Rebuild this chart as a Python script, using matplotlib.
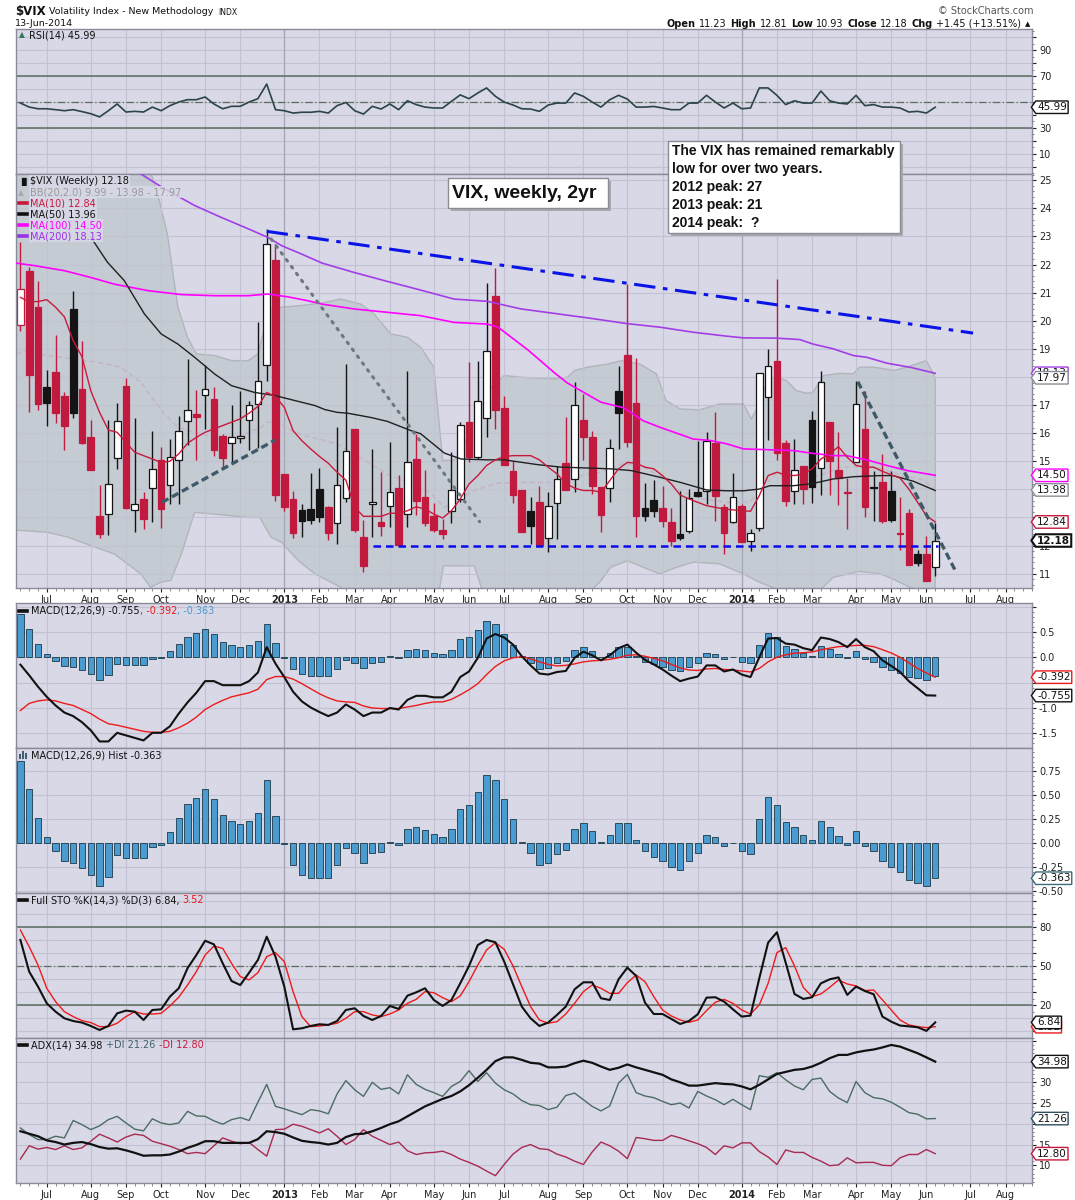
import matplotlib
matplotlib.use("Agg")
import matplotlib.pyplot as plt
import numpy as np
import pandas as pd
from matplotlib.lines import Line2D
from matplotlib.patches import Rectangle
from matplotlib.path import Path
from matplotlib.ticker import MultipleLocator

plt.rcParams["font.family"] = ["DejaVu Sans"]

# ---- data (weekly bars, Monday dated) ----
first_week = "2012-06-11"
n_future = 11

opens = [19.86, 21.78, 20.48, 17.63, 18.17, 17.31, 20.42, 17.57, 15.85, 13.07,
         13.11, 15.12, 17.68, 13.25, 13.67, 14.04, 15.05, 14.17, 15.03, 16.45,
         16.69, 17.34, 17.20, 15.89, 15.64, 15.82, 16.46, 17.03, 18.44, 22.16,
         14.55, 13.65, 13.27, 13.30, 14.00, 13.38, 12.79, 13.69, 16.15, 12.32,
         13.48, 12.85, 13.42, 14.04, 13.12, 15.08, 13.74, 13.06, 12.57, 13.24,
         13.66, 16.39, 15.14, 16.53, 20.87, 16.89, 14.64, 13.98, 13.22, 13.54,
         12.26, 13.50, 14.93, 14.37, 16.47, 15.85, 14.07, 14.04, 17.51, 18.78,
         17.07, 13.34, 13.62, 13.34, 12.83, 12.41, 12.53, 13.89, 13.95, 15.64,
         13.36, 12.85, 13.40, 12.15, 12.63, 17.28, 18.56, 15.64, 13.93, 14.82,
         16.47, 14.76, 16.39, 14.69, 13.86, 14.96, 16.15, 14.07, 14.25, 13.93,
         12.46, 13.15, 11.70, 11.70, 11.23]
highs = [22.80, 21.90, 21.40, 18.25, 19.50, 17.46, 21.04, 19.29, 16.47, 14.14,
         16.47, 17.07, 17.96, 16.53, 13.90, 16.09, 15.50, 15.80, 16.60, 18.65,
         17.52, 18.41, 17.64, 15.97, 17.00, 17.51, 17.16, 19.97, 23.27, 22.73,
         14.55, 13.95, 13.48, 14.58, 14.77, 13.42, 16.21, 18.46, 16.15, 12.91,
         15.44, 14.63, 15.67, 14.51, 18.22, 15.97, 14.69, 13.50, 12.95, 15.32,
         16.39, 18.52, 18.58, 21.34, 21.88, 17.31, 15.00, 13.98, 13.72, 14.13,
         13.89, 14.84, 16.57, 17.81, 17.39, 16.06, 14.07, 15.79, 18.40, 21.31,
         18.67, 14.22, 14.34, 14.13, 13.33, 13.95, 14.01, 15.73, 16.05, 16.74,
         13.48, 14.57, 13.48, 12.59, 18.13, 18.99, 21.49, 15.76, 15.79, 14.82,
         16.80, 18.20, 16.39, 16.05, 14.41, 17.84, 17.49, 14.67, 15.26, 14.67,
         13.74, 13.30, 11.85, 12.35, 12.81]
lows = [19.65, 16.77, 16.84, 16.27, 16.35, 15.40, 16.53, 15.60, 14.70, 12.27,
        12.36, 14.73, 13.29, 12.48, 12.60, 12.84, 12.63, 13.49, 13.49, 15.59,
        15.03, 16.16, 15.20, 14.78, 14.92, 15.64, 15.40, 15.46, 17.84, 13.60,
        13.24, 12.26, 12.30, 12.77, 12.85, 12.20, 12.05, 13.56, 12.47, 11.05,
        12.30, 12.35, 12.65, 11.98, 12.65, 13.10, 12.71, 12.47, 12.23, 12.82,
        13.54, 14.96, 15.08, 15.87, 16.15, 14.88, 13.50, 12.50, 12.06, 12.02,
        11.78, 12.23, 13.96, 13.89, 15.04, 13.83, 12.50, 13.56, 15.44, 15.50,
        12.32, 12.89, 13.00, 12.65, 12.00, 12.20, 12.44, 13.72, 13.48, 12.89,
        11.70, 12.82, 12.11, 11.79, 12.53, 15.77, 15.04, 13.42, 13.48, 13.48,
        13.50, 13.81, 13.81, 13.45, 12.59, 14.96, 13.03, 12.89, 12.82, 12.85,
        11.85, 11.32, 11.29, 10.73, 10.93]
closes = [21.13, 18.07, 17.04, 17.09, 16.73, 16.27, 16.71, 15.64, 14.70, 12.42,
          14.18, 16.45, 13.35, 13.49, 12.95, 14.71, 13.31, 15.15, 16.06, 16.81,
          16.57, 17.58, 15.41, 15.11, 15.85, 15.89, 16.99, 17.84, 22.73, 13.81,
          13.36, 12.44, 12.88, 12.90, 13.00, 12.44, 14.16, 15.38, 12.56, 11.29,
          13.56, 12.68, 13.89, 12.03, 14.96, 13.60, 12.80, 12.57, 12.41, 13.98,
          16.29, 15.14, 17.13, 18.91, 16.84, 14.88, 13.81, 12.50, 12.71, 12.02,
          13.40, 14.37, 13.96, 17.00, 15.85, 14.13, 13.10, 15.46, 16.72, 15.70,
          13.04, 13.06, 13.24, 12.89, 12.18, 12.26, 13.69, 13.77, 15.73, 13.77,
          12.44, 13.74, 12.11, 12.44, 18.13, 18.40, 15.28, 13.58, 14.69, 14.02,
          14.10, 17.81, 15.00, 14.41, 13.92, 17.04, 13.36, 14.04, 12.89, 12.90,
          12.42, 11.32, 11.37, 10.73, 12.18]
close_before_first = 22.0

ma10 = [20.83, 20.68, 20.68, 20.75, 20.48, 20.14, 19.29, 18.72, 17.51, 16.74,
        16.11, 16.03, 15.67, 15.32, 15.20, 15.08, 14.96, 15.00, 15.26, 15.64,
        15.85, 16.03, 16.15, 16.27, 16.39, 16.51, 16.71, 16.95, 17.45, 17.30,
        16.92, 16.09, 15.73, 15.44, 15.17, 14.93, 14.61, 14.33, 13.36, 13.04,
        13.04, 13.04, 13.15, 13.15, 13.24, 13.38, 13.30, 13.12, 12.98, 13.24,
        13.66, 14.19, 14.49, 14.85, 15.05, 15.17, 15.20, 15.20, 15.20, 15.05,
        14.79, 14.55, 14.22, 14.04, 13.96, 13.96, 13.90, 14.31, 14.73, 14.96,
        14.93, 14.79, 14.73, 14.49, 14.19, 13.80, 13.66, 13.54, 13.42, 13.36,
        13.30, 13.27, 13.24, 13.22, 13.78, 14.49, 14.61, 14.51, 14.49, 14.55,
        14.73, 15.08, 15.26, 15.52, 15.14, 14.85, 14.79, 14.79, 14.64, 14.52,
        14.40, 14.01, 13.54, 13.06, 12.84]

ma50_x = [8.0, 9.9, 11.8, 14.1, 16.0, 17.9, 19.8, 22.1, 24.0, 26.6, 28.9, 31.2, 33.5,
          34.6, 36.0, 37.2, 39.8, 41.7, 44.4, 45.5, 48.2, 50.1, 53.1, 55.0, 58.8, 61.5,
          64.5, 67.1, 69.4, 70.8, 72.7, 75.0, 78.0, 80.3, 82.2, 84.0, 85.2, 87.9, 90.1,
          92.4, 94.7, 97.7, 99.2, 101.5, 104.0]
ma50_y = [22.97, 22.08, 21.43, 20.24, 19.53, 19.17, 18.70, 18.10, 17.69, 17.45, 17.34,
          17.16, 16.98, 16.84, 16.74, 16.71, 16.56, 16.42, 16.09, 15.98, 15.29, 15.08,
          15.05, 15.05, 14.88, 14.79, 14.76, 14.73, 14.67, 14.57, 14.43, 14.25, 13.98,
          13.95, 13.95, 14.01, 14.13, 14.13, 14.21, 14.37, 14.45, 14.49, 14.49, 14.29,
          13.96]

ma100_x = [-0.5, 1.6, 5.0, 8.0, 10.7, 14.5, 18.3, 22.1, 25.9, 28.1, 30.4, 32.7, 34.3,
           37.9, 41.7, 45.5, 49.3, 53.1, 54.3, 57.7, 60.7, 62.2, 66.0, 68.6, 70.8, 72.7,
           76.5, 78.4, 80.3, 82.2, 86.0, 87.9, 90.1, 92.4, 93.9, 96.2, 98.5, 100.8, 104.0]
ma100_y = [22.05, 21.96, 21.78, 21.54, 21.30, 21.07, 20.93, 20.89, 20.89, 20.95, 20.85,
           20.71, 20.59, 20.42, 20.30, 20.18, 19.94, 19.88, 19.77, 18.96, 18.15, 17.78,
           17.10, 16.90, 16.44, 16.21, 15.79, 15.74, 15.62, 15.44, 15.40, 15.38, 15.28,
           15.20, 15.20, 15.05, 14.85, 14.67, 14.50]

ma200_x = [12.0, 13.7, 16.4, 19.8, 22.8, 25.9, 28.1, 29.7, 31.9, 34.3, 37.9, 41.7, 45.5,
           49.3, 53.1, 56.9, 60.7, 64.5, 68.9, 72.7, 76.5, 80.3, 82.2, 86.0, 88.6, 90.1,
           92.4, 94.7, 96.2, 98.5, 101.2, 104.0]
ma200_y = [25.50, 25.22, 24.69, 24.10, 23.68, 23.27, 22.97, 22.67, 22.38, 22.05, 21.72,
           21.40, 21.09, 20.77, 20.69, 20.42, 20.26, 20.10, 19.90, 19.77, 19.59, 19.45,
           19.39, 19.38, 19.33, 19.17, 19.00, 18.76, 18.70, 18.49, 18.34, 18.13]

bb_up_x = [-0.5, 10.0, 14.5, 15.6, 16.7, 17.9, 19.0, 20.0, 22.1, 24.0, 25.9, 27.0, 27.6,
           28.1, 29.7, 31.9, 34.1, 36.4, 38.7, 40.2, 42.1, 44.0, 45.5, 47.0, 48.0, 49.3,
           50.1, 52.0, 53.5, 55.0, 56.9, 60.7, 62.2, 63.0, 64.5, 66.8, 68.3, 70.4, 72.3,
           73.4, 75.0, 77.2, 79.5, 82.2, 83.1, 84.0, 85.0, 85.9, 87.1, 88.2, 89.4, 90.1,
           91.3, 93.2, 94.7, 95.4, 97.0, 99.3, 100.8, 103.0, 104.0]
bb_up_y = [27.0, 26.8, 25.6, 24.51, 23.09, 20.48, 19.41, 18.82, 18.76, 18.58, 18.58,
           18.82, 19.53, 20.42, 20.48, 20.54, 20.62, 20.77, 20.59, 20.24, 19.53, 19.41,
           19.06, 18.35, 15.02, 15.05, 15.38, 16.68, 17.63, 18.05, 17.99, 17.93, 17.99,
           18.23, 18.35, 18.46, 18.58, 18.46, 18.11, 17.16, 16.86, 16.83, 17.04, 17.04,
           16.50, 17.04, 17.93, 17.99, 17.87, 17.51, 17.42, 17.45, 18.05, 18.13, 18.11,
           18.35, 18.35, 18.23, 18.35, 18.58, 17.97]
bb_mid_x = [-0.5, 0.8, 3.1, 6.1, 8.8, 11.4, 13.7, 15.2, 16.4, 17.9, 19.8, 22.1, 25.1, 27.4,
            28.1, 29.3, 30.8, 32.3, 34.3, 36.0, 38.0, 39.8, 41.7, 43.6, 45.5, 46.7, 48.2,
            50.1, 52.0, 54.3, 56.9, 60.7, 63.7, 66.0, 68.6, 70.8, 72.7, 75.0, 77.6, 80.3,
            82.9, 84.0, 85.9, 88.6, 90.9, 93.2, 95.8, 98.0, 100.3, 102.6, 104.0]
bb_mid_y = [18.82, 18.91, 18.76, 18.64, 18.52, 18.35, 17.81, 17.16, 16.68, 16.21, 16.03,
            15.85, 15.91, 16.21, 16.39, 16.39, 16.09, 15.91, 15.76, 15.61, 15.26, 14.90,
            14.55, 14.31, 14.07, 13.84, 13.36, 13.72, 14.01, 14.22, 14.25, 14.25, 14.49,
            14.61, 14.93, 14.79, 14.49, 13.95, 13.66, 13.54, 13.54, 13.95, 14.55, 14.40,
            14.49, 14.79, 14.81, 14.73, 14.49, 14.34, 13.98]
bb_lo_x = [-0.5, 3.1, 5.4, 8.0, 10.7, 13.7, 14.8, 16.0, 17.1, 18.3, 19.8, 22.1, 25.9, 27.2,
           28.5, 29.7, 31.6, 33.5, 34.6, 36.4, 38.0, 42.0, 46.0, 47.6, 48.1, 51.6, 52.4,
           55.0, 60.0, 64.0, 66.0, 67.1, 69.0, 70.8, 72.7, 74.6, 76.5, 79.5, 82.2, 84.0,
           85.9, 88.0, 90.5, 92.4, 95.4, 97.7, 99.2, 101.1, 102.5, 104.0]
bb_lo_y = [12.55, 12.47, 12.30, 12.00, 11.70, 10.99, 10.52, 10.70, 10.76, 11.70, 13.18,
           13.12, 13.00, 13.00, 12.30, 12.11, 11.46, 10.99, 10.81, 10.52, 10.10, 9.80,
           10.00, 10.40, 11.28, 11.28, 10.50, 9.90, 9.80, 10.10, 10.75, 11.23, 11.46,
           11.23, 10.99, 11.23, 11.41, 11.35, 10.99, 10.70, 10.46, 10.20, 10.30, 10.87,
           11.08, 11.00, 10.81, 10.52, 10.30, 9.99]

# hand-drawn trendlines: (x0, y0, x1, y1)
resistance_line = (28.0, 23.18, 108.3, 19.56)
drop_2013_line = (28.5, 22.91, 52.2, 12.85)
rise_2012_line = (16.1, 13.54, 29.0, 15.76)
support_line = (40.1, 12.0, 104.3, 12.0)
drop_2014_line = (95.2, 17.83, 106.3, 11.10)

rsi = [49.2, 46.1, 44.8, 44.8, 44.1, 43.3, 44.1, 42.6, 41.0, 38.5, 43.3, 48.5, 42.3, 42.8,
       42.3, 46.1, 43.3, 47.2, 50.0, 51.8, 51.8, 53.9, 48.5, 44.8, 46.7, 46.7, 50.0, 52.6,
       63.9, 44.1, 43.3, 41.5, 42.1, 42.1, 42.8, 41.5, 47.2, 49.7, 43.3, 40.7, 46.7, 44.6,
       48.5, 44.1, 51.0, 48.0, 46.1, 45.4, 45.4, 50.5, 55.5, 52.6, 57.0, 60.9, 54.4, 50.0,
       47.7, 44.8, 44.6, 42.8, 47.7, 49.2, 49.2, 57.0, 54.4, 50.0, 46.1, 51.8, 55.2, 52.3,
       46.1, 46.1, 46.6, 45.4, 44.1, 44.1, 49.2, 49.2, 55.2, 50.0, 45.4, 49.2, 44.8, 45.4,
       60.9, 60.9, 55.2, 48.0, 51.0, 49.2, 49.2, 58.5, 51.0, 49.2, 48.5, 55.2, 47.2, 48.0,
       46.1, 46.1, 45.4, 42.3, 42.8, 41.5, 45.99]

macd = [-0.145, -0.355, -0.58, -0.78, -0.95, -1.09, -1.16, -1.28, -1.44, -1.66, -1.66,
        -1.49, -1.54, -1.59, -1.64, -1.49, -1.49, -1.36, -1.11, -0.89, -0.70, -0.47, -0.47,
        -0.55, -0.55, -0.55, -0.47, -0.30, 0.20, -0.125, -0.39, -0.68, -0.87, -0.99, -1.08,
        -1.16, -1.09, -0.93, -1.03, -1.16, -1.09, -1.09, -1.00, -1.03, -0.84, -0.76, -0.76,
        -0.79, -0.79, -0.68, -0.39, -0.28, -0.01, 0.37, 0.46, 0.39, 0.25, 0.02, -0.16, -0.32,
        -0.34, -0.29, -0.27, -0.01, 0.11, 0.04, -0.06, 0.04, 0.18, 0.25, 0.09, -0.05, -0.14,
        -0.24, -0.36, -0.47, -0.42, -0.38, -0.16, -0.16, -0.28, -0.24, -0.34, -0.39, 0.0,
        0.37, 0.38, 0.27, 0.25, 0.18, 0.14, 0.39, 0.36, 0.30, 0.20, 0.36, 0.20, 0.12, -0.06,
        -0.17, -0.29, -0.47, -0.61, -0.75, -0.755]
macd_signal = [-1.05, -0.91, -0.86, -0.84, -0.86, -0.91, -0.95, -1.03, -1.11, -1.22, -1.31,
               -1.34, -1.38, -1.42, -1.46, -1.48, -1.48, -1.46, -1.39, -1.30, -1.18, -1.03,
               -0.93, -0.85, -0.78, -0.74, -0.70, -0.63, -0.44, -0.38, -0.38, -0.43, -0.52,
               -0.62, -0.72, -0.80, -0.86, -0.88, -0.89, -0.96, -1.00, -1.01, -1.01, -1.01,
               -0.98, -0.95, -0.91, -0.88, -0.88, -0.83, -0.74, -0.64, -0.52, -0.34, -0.18,
               -0.07, -0.01, 0.01, -0.03, -0.09, -0.14, -0.17, -0.16, -0.13, -0.09, -0.07,
               -0.06, -0.04, -0.01, 0.04, 0.05, 0.02, -0.02, -0.07, -0.14, -0.21, -0.25,
               -0.26, -0.23, -0.22, -0.24, -0.25, -0.27, -0.29, -0.22, -0.09, 0.0, 0.05,
               0.08, 0.09, 0.105, 0.15, 0.18, 0.21, 0.22, 0.235, 0.235, 0.21, 0.15, 0.085,
               0.0, -0.11, -0.22, -0.31, -0.392]
macd_hist = [0.86, 0.5625, 0.26, 0.0625, -0.076, -0.18, -0.20, -0.26, -0.33, -0.44, -0.35,
             -0.125, -0.156, -0.156, -0.156, -0.035, -0.017, 0.115, 0.26, 0.406, 0.47,
             0.5625, 0.458, 0.30, 0.236, 0.198, 0.236, 0.3125, 0.656, 0.28, -0.005, -0.226,
             -0.33, -0.365, -0.365, -0.365, -0.226, -0.052, -0.104, -0.208, -0.104, -0.087,
             0.017, -0.02, 0.146, 0.167, 0.135, 0.094, 0.0625, 0.146, 0.354, 0.396, 0.531,
             0.708, 0.656, 0.458, 0.25, 0.017, -0.104, -0.226, -0.208, -0.115, -0.073,
             0.146, 0.208, 0.125, 0.01, 0.087, 0.208, 0.208, 0.03, -0.083, -0.139, -0.1875,
             -0.25, -0.28, -0.1875, -0.104, 0.083, 0.0625, -0.031, 0.003, -0.083, -0.115,
             0.25, 0.479, 0.396, 0.219, 0.167, 0.083, 0.031, 0.229, 0.167, 0.073, -0.021,
             0.125, -0.031, -0.083, -0.1875, -0.25, -0.30, -0.385, -0.417, -0.448, -0.363]

sto_k = [70.3, 45.9, 34.4, 21.5, 15.1, 10.0, 7.9, 6.7, 4.1, 1.0, 4.1, 13.8, 15.9, 15.1, 8.7,
         16.4, 16.9, 26.7, 33.1, 48.5, 58.7, 69.7, 66.9, 52.3, 38.7, 35.6, 45.1, 54.9, 72.8,
         57.4, 34.4, 1.5, 2.3, 4.1, 5.4, 4.9, 7.9, 16.4, 17.7, 11.8, 8.7, 11.8, 19.5, 17.2,
         27.4, 30.0, 33.1, 24.1, 19.5, 24.1, 36.9, 50.3, 66.4, 70.3, 68.5, 53.6, 36.2, 19.0,
         10.0, 4.1, 6.7, 12.6, 19.0, 32.3, 37.7, 37.7, 25.4, 24.1, 40.0, 49.0, 42.6, 22.1,
         13.3, 13.3, 9.5, 5.6, 7.9, 13.1, 25.9, 26.2, 22.8, 16.9, 11.3, 12.1, 40.8, 68.2,
         76.2, 52.8, 28.7, 24.9, 26.2, 36.9, 40.0, 41.5, 28.0, 34.4, 31.0, 28.5, 11.3, 7.4,
         4.4, 3.8, 3.1, 0.3, 6.84]
sto_d = [77.9, 65.1, 51.0, 33.1, 22.8, 15.1, 11.3, 8.2, 6.7, 3.6, 3.6, 6.2, 11.3, 15.1,
         13.3, 13.3, 13.8, 19.5, 26.2, 35.6, 45.9, 58.7, 65.6, 63.8, 52.3, 42.1, 39.5, 45.1,
         57.4, 60.5, 53.6, 30.5, 11.3, 3.6, 4.1, 4.9, 6.2, 10.0, 15.1, 15.1, 12.6, 11.3,
         13.3, 16.4, 21.5, 24.6, 30.5, 29.7, 25.9, 22.8, 27.2, 38.2, 51.0, 62.6, 68.2, 63.1,
         50.3, 34.4, 19.0, 8.7, 6.2, 7.4, 13.3, 21.5, 30.5, 35.6, 33.1, 29.2, 29.2, 37.4,
         43.3, 38.2, 26.7, 16.4, 11.8, 8.7, 6.9, 8.7, 15.9, 22.3, 24.6, 21.5, 16.4, 13.3,
         20.3, 36.9, 60.5, 64.4, 50.3, 33.8, 26.7, 28.7, 33.8, 39.5, 36.4, 34.9, 31.3, 31.8,
         24.1, 16.4, 8.7, 4.9, 3.6, 2.8, 3.52]

adx = [18.2, 17.6, 17.0, 16.0, 15.6, 15.0, 15.4, 15.6, 15.1, 14.4, 14.0, 14.1, 13.6, 13.0,
       12.3, 12.4, 12.4, 12.6, 13.3, 14.2, 14.9, 15.8, 15.8, 15.4, 15.4, 15.4, 15.4, 16.3,
       18.2, 18.0, 17.6, 16.7, 15.9, 15.6, 15.4, 15.0, 15.4, 16.8, 17.5, 17.6, 18.2, 19.0,
       19.9, 20.6, 21.8, 23.0, 24.2, 25.1, 26.0, 26.7, 27.8, 29.3, 31.1, 33.0, 35.1, 36.0,
       36.0, 35.4, 34.7, 34.5, 33.6, 33.6, 33.8, 34.6, 35.2, 34.7, 33.8, 33.0, 33.5, 34.3,
       33.6, 33.0, 32.4, 31.8, 30.7, 30.0, 29.2, 29.2, 29.5, 29.8, 29.6, 29.5, 29.0, 28.3,
       29.4, 30.7, 32.0, 32.5, 33.0, 33.2, 33.8, 34.7, 35.8, 36.6, 36.6, 37.2, 37.6, 37.9,
       38.4, 39.0, 38.6, 37.8, 37.0, 36.0, 34.98]
plus_di = [19.0, 17.4, 16.2, 16.2, 17.0, 16.6, 20.8, 19.8, 18.6, 19.5, 21.0, 21.8, 20.2,
           18.7, 18.3, 21.2, 20.2, 19.8, 20.2, 23.0, 21.9, 21.8, 20.7, 19.9, 21.0, 21.5,
           20.8, 25.2, 29.5, 24.2, 23.6, 22.9, 22.2, 23.4, 23.1, 22.4, 27.2, 30.4, 28.2,
           26.6, 30.0, 28.3, 28.7, 27.2, 31.8, 29.5, 28.3, 27.5, 26.6, 29.0, 30.2, 32.8,
           30.2, 32.3, 29.8, 28.2, 27.2, 25.6, 24.6, 24.4, 23.4, 24.0, 26.8, 27.4, 25.8,
           24.2, 23.1, 24.3, 29.8, 31.9, 27.5, 26.7, 26.3, 25.4, 24.6, 25.0, 23.8, 27.8,
           26.7, 25.8, 24.6, 25.9, 24.6, 23.4, 31.6, 31.2, 32.3, 30.6, 29.1, 28.2, 30.7,
           31.0, 27.8, 26.2, 25.1, 30.2, 27.5, 26.3, 26.0, 25.2, 24.0, 22.7, 22.3, 21.2,
           21.26]
minus_di = [11.5, 14.7, 13.9, 14.3, 13.8, 14.7, 13.8, 14.2, 15.8, 17.5, 16.6, 15.6, 16.8,
            17.5, 17.2, 15.8, 15.2, 14.6, 13.8, 12.8, 13.1, 12.8, 14.7, 16.6, 15.8, 15.2,
            15.5, 13.8, 12.2, 18.6, 18.7, 19.9, 19.4, 18.6, 17.8, 18.8, 17.0, 15.0, 16.2,
            18.6, 17.0, 16.0, 15.0, 15.6, 13.5, 12.6, 13.0, 13.1, 13.4, 12.6, 11.5, 10.7,
            9.8, 8.6, 7.5, 10.2, 12.7, 14.3, 15.0, 14.0, 13.8, 12.7, 12.0, 11.0, 10.2, 13.2,
            15.6, 14.7, 13.4, 11.6, 16.7, 16.4, 16.0, 16.0, 17.2, 16.6, 15.9, 15.2, 14.3,
            12.6, 14.7, 14.2, 15.4, 15.4, 13.3, 12.0, 10.2, 13.7, 13.1, 13.1, 11.9, 11.0,
            9.9, 10.1, 11.8, 10.6, 10.7, 10.7, 10.0, 9.9, 11.8, 12.6, 12.6, 13.8, 12.8]

info_lines = ["The VIX has remained remarkably", "low for over two years.",
              "2012 peak: 27", "2013 peak: 21", "2014 peak:  ?"]

# ---- layout ----
W, H = 1075, 1200
X0, X1 = 16, 1032
BG = "#d8d8e7"
GRID = "#c2c2d2"
SPINE = "#8a8a98"
RED = "#c21a3e"
BLK = "#141414"

n = len(closes)
idx = np.arange(n)
dates = pd.date_range(first_week, periods=n + n_future, freq="W-MON")
month_idx = [i for i in range(1, len(dates)) if dates[i].month != dates[i - 1].month]
month_lbl = [str(dates[i].year) if dates[i].month == 1 else dates[i].strftime("%b") for i in month_idx]
year_idx = [i for i, l in zip(month_idx, month_lbl) if l.isdigit()]

fig = plt.figure(figsize=(W / 100, H / 100), dpi=100)
fig.patch.set_facecolor("white")


def panel(top, bottom, ylim):
    ax = fig.add_axes([X0 / W, 1 - bottom / H, (X1 - X0) / W, (bottom - top) / H])
    ax.set_facecolor(BG)
    ax.set_xlim(-0.5, 115.0)
    ax.set_ylim(*ylim)
    for s in ax.spines.values():
        s.set_color(SPINE)
        s.set_linewidth(1)
    ax.set_xticks(month_idx)
    ax.set_xticks(np.arange(0, len(dates)), minor=True)
    ax.grid(True, which="major", color=GRID, lw=0.8)
    ax.set_axisbelow(True)
    ax.yaxis.tick_right()
    ax.tick_params(axis="y", which="major", length=3, pad=2, labelsize=7,
                   colors="#222", direction="out")
    ax.tick_params(axis="y", which="minor", length=1.5, color="#666")
    ax.tick_params(axis="x", which="both", bottom=False, labelbottom=False)
    for i in year_idx:
        ax.axvline(i, color="#a6a6b6", lw=0.9, zorder=0.6)
    return ax


def month_labels(ax):
    ax.tick_params(axis="x", which="major", bottom=True, labelbottom=True, length=3,
                   pad=1.5, labelsize=7, colors="#222")
    ax.tick_params(axis="x", which="minor", bottom=True, length=2, color="#777")
    ax.set_xticklabels(month_lbl)
    for t, l in zip(ax.get_xticklabels(), month_lbl):
        if l.isdigit():
            t.set_fontweight("bold")


def y_ticks(ax, ticks, labels, minor):
    ax.set_yticks(ticks)
    ax.set_yticklabels(labels)
    ax.yaxis.set_minor_locator(MultipleLocator(minor))


def tag_path(x0, y0, width, height, mutation_size):
    pad = 0.12 * mutation_size
    x0, y0 = x0 - pad, y0 - pad
    w, h = width + 2 * pad, height + 2 * pad
    tip = 0.35 * h
    verts = [(x0, y0), (x0 + w, y0), (x0 + w, y0 + h), (x0, y0 + h),
             (x0 - tip, y0 + h / 2), (x0, y0)]
    return Path(verts, closed=True)


def tag(ax, y, s, ec, bold=False, lw=1.0, z=6):
    ax.annotate(s, xy=(1, y), xycoords=ax.get_yaxis_transform(), xytext=(3.6, 0),
                textcoords="offset points", ha="left", va="center", fontsize=7.5,
                color="#111", fontweight="bold" if bold else "normal",
                bbox=dict(boxstyle=tag_path, fc="white", ec=ec, lw=lw),
                annotation_clip=False, zorder=z)


renderer = fig.canvas.get_renderer()


def seq(x, y, parts, align="left", gap=0.0, size=7):
    arts = []
    for s, kw in parts:
        kw = dict(kw)
        fs = kw.pop("size", size)
        arts.append(fig.text(0, 1 - y / H, s, va="center", ha="left", fontsize=fs, **kw))
    widths = [a.get_window_extent(renderer).width for a in arts]
    cur = x - (sum(widths) + gap * (len(arts) - 1)) if align == "right" else x
    for a, w in zip(arts, widths):
        a.set_x(cur / W)
        cur += w + gap


def dash_icon(x, y, color):
    fig.add_artist(Line2D([x / W, (x + 8) / W], [1 - y / H] * 2, color=color, lw=2.6,
                          transform=fig.transFigure))


# ---- RSI ----
ax_rsi = panel(29.3, 174, (-5.6, 106.2))
y_ticks(ax_rsi, range(0, 101, 10), ["", "10", "", "30", "", "", "", "70", "", "90", ""], 5)
for lvl in (70, 30):
    ax_rsi.axhline(lvl, color="#5c6c60", lw=1.1, zorder=1)
ax_rsi.axhline(50, color="#5c6c60", lw=0.9, ls=(0, (6, 2, 1, 2)), zorder=1)
ax_rsi.plot(idx, rsi, color="#2c4448", lw=1.2, zorder=3)
tag(ax_rsi, rsi[-1], f"{rsi[-1]:.2f}", "#111")

# ---- price ----
ax = panel(174, 588.3, (10.48, 25.22))
price_ticks = list(range(11, 26))
y_ticks(ax, price_ticks, ["" if v in (13, 14, 18) else str(v) for v in price_ticks], 0.2)
month_labels(ax)
ax.fill(np.r_[bb_up_x, bb_lo_x[::-1]], np.r_[bb_up_y, bb_lo_y[::-1]],
        fc="#c5cbd2", ec="#b2b5bb", lw=1.0, zorder=0.3)
ax.plot(bb_mid_x, bb_mid_y, color="#c4b6c6", lw=1.2, ls=(0, (3, 2)), zorder=1.5)

prev = np.r_[close_before_first, closes[:-1]]
for i in range(n):
    o, h, l, c = opens[i], highs[i], lows[i], closes[i]
    col = RED if c < prev[i] else BLK
    face = "white" if c > o else col
    ax.vlines(i, l, h, color=col, lw=1.0, zorder=2)
    ax.add_patch(Rectangle((i - 0.38, min(o, c)), 0.76, max(abs(c - o), 0.03),
                           fc=face, ec=col, lw=0.9, zorder=2.1))

ax.plot(ma200_x, ma200_y, color="#a23ee6", lw=1.2, zorder=3)
ax.plot(ma100_x, ma100_y, color="#ff00ff", lw=1.2, zorder=3)
ax.plot(ma50_x, ma50_y, color="#202020", lw=1.0, zorder=3)
ax.plot(idx, ma10, color="#c8193c", lw=1.0, zorder=3)

x0_, y0_, x1_, y1_ = resistance_line
ax.plot([x0_, x1_], [y0_, y1_], color="#0a14e6", lw=2.2, ls=(0, (7, 2.5, 1.5, 2.5)), zorder=4)
x0_, y0_, x1_, y1_ = drop_2013_line
ax.plot([x0_, x1_], [y0_, y1_], color="#6a7880", lw=2.2, ls=(0, (0.6, 2.2)),
        dash_capstyle="round", zorder=4)
for ln in (rise_2012_line, drop_2014_line):
    x0_, y0_, x1_, y1_ = ln
    ax.plot([x0_, x1_], [y0_, y1_], color="#3e5a68", lw=2.4, ls=(0, (2.2, 1.2)), zorder=4)
x0_, y0_, x1_, y1_ = support_line
ax.plot([x0_, x1_], [y0_, y1_], color="#0a0af0", lw=1.8, ls=(0, (3, 2)), zorder=4)

tag(ax, ma200_y[-1], f"{ma200_y[-1]:.2f}", "#a23ee6")
tag(ax, bb_up_y[-1], f"{bb_up_y[-1]:.2f}", "#8a9098")
tag(ax, ma100_y[-1], f"{ma100_y[-1]:.2f}", "#ff00ff")
tag(ax, bb_mid_y[-1], f"{bb_mid_y[-1]:.2f}", "#8a9098")
tag(ax, ma10[-1], f"{ma10[-1]:.2f}", "#c8193c")
tag(ax, closes[-1], f"{closes[-1]:.2f}", "#111", bold=True, lw=1.5, z=7)

# ---- MACD ----
ax_m = panel(603.3, 748.3, (-1.795, 1.065))
y_ticks(ax_m, [-1.5, -1.0, -0.5, 0.0, 0.5, 1.0], ["-1.5", "-1.0", "", "0.0", "0.5", ""], 0.1)
ax_m.bar(idx, macd_hist, width=0.72, color="#4a9bd0", edgecolor="#2b4a5c", lw=0.7, zorder=2)
ax_m.plot(idx, macd_signal, color="#ee1a1a", lw=1.0, zorder=3)
ax_m.plot(idx, macd, color="#111", lw=1.5, zorder=4)
tag(ax_m, macd_signal[-1], f"{macd_signal[-1]:.3f}", "#ee1a1a")
tag(ax_m, macd[-1], f"{macd[-1]:.3f}", "#111")

# ---- MACD histogram ----
ax_h = panel(748.3, 893.3, (-0.52, 0.99))
y_ticks(ax_h, [-0.5, -0.25, 0.0, 0.25, 0.5, 0.75],
        ["-0.50", "-0.25", "0.00", "0.25", "0.50", "0.75"], 0.05)
ax_h.bar(idx, macd_hist, width=0.72, color="#4a9bd0", edgecolor="#2b4a5c", lw=0.7, zorder=2)
tag(ax_h, macd_hist[-1], f"{macd_hist[-1]:.3f}", "#3a6a7c")

# ---- Full stochastics ----
ax_s = panel(893.3, 1038.3, (-5.4, 106.2))
y_ticks(ax_s, range(0, 101, 10), ["", "", "20", "", "", "50", "", "", "80", "", ""], 5)
for lvl in (80, 20):
    ax_s.axhline(lvl, color="#5c6c60", lw=1.1, zorder=1)
ax_s.axhline(50, color="#5c6c60", lw=0.9, ls=(0, (6, 2, 1, 2)), zorder=1)
ax_s.plot(idx, sto_d, color="#ee1a1a", lw=1.0, zorder=3)
ax_s.plot(idx, sto_k, color="#111", lw=1.5, zorder=4)
tag(ax_s, sto_d[-1], f"{sto_d[-1]:.2f}", "#ee1a1a")
tag(ax_s, sto_k[-1], f"{sto_k[-1]:.2f}", "#111", z=7)

# ---- ADX ----
ax_a = panel(1038.3, 1183.3, (5.66, 40.6))
y_ticks(ax_a, range(10, 41, 5), ["10", "15", "", "25", "30", "", ""], 1)
month_labels(ax_a)
ax_a.plot(idx, minus_di, color="#a82a50", lw=1.0, zorder=3)
ax_a.plot(idx, plus_di, color="#4c6c62", lw=1.0, zorder=3)
ax_a.plot(idx, adx, color="#111", lw=1.6, zorder=4)
tag(ax_a, minus_di[-1], f"{minus_di[-1]:.2f}", "#c8193c")
tag(ax_a, plus_di[-1], f"{plus_di[-1]:.2f}", "#2f4f5f")
tag(ax_a, adx[-1], f"{adx[-1]:.2f}", "#111")

# ---- header ----
fig.text(15 / W, 1 - 12 / H, "$VIX", fontsize=8.5, fontweight="bold", va="center", color="#111")
fig.text(49 / W, 1 - 12 / H, "Volatility Index - New Methodology", fontsize=6.8, va="center", color="#111")
fig.text(218 / W, 1 - 12.5 / H, "INDX", fontsize=5.5, va="center", color="#111")
fig.text(15 / W, 1 - 24 / H, "13-Jun-2014", fontsize=6.8, va="center", color="#111")
fig.text(1033 / W, 1 - 11 / H, "\u00a9 StockCharts.com", fontsize=7, va="center", ha="right", color="#555")
b = {"fontweight": "bold", "color": "#111"}
r = {"color": "#111"}
seq(1030, 24, [("Open", b), ("11.23", r), ("High", b), ("12.81", r), ("Low", b), ("10.93", r),
               ("Close", b), ("12.18", r), ("Chg", b), ("+1.45 (+13.51%)", r),
               ("\u25b2", {"color": "#111", "size": 5})], align="right", gap=3.5, size=7)

# ---- panel titles ----
fig.text(19 / W, 1 - 35 / H, "\u25b2", fontsize=5.5, color="#2e7a58", va="center")
seq(29, 35, [("RSI(14) 45.99", r)], size=7)

legend_rows = [("$VIX (Weekly) 12.18", "#111"),
               ("BB(20,2.0) 9.99 - 13.98 - 17.97", "#9a9a9a"),
               ("MA(10) 12.84", "#c8193c"),
               ("MA(50) 13.96", "#111"),
               ("MA(100) 14.50", "#ff00ff"),
               ("MA(200) 18.13", "#9a32e6")]
for k, (s, c) in enumerate(legend_rows):
    y = 181.3 + 11 * k
    fig.text(30 / W, 1 - y / H, s, fontsize=7, color=c, va="center",
             bbox=dict(fc=BG, ec="none", alpha=0.85, pad=0.6), zorder=5)
    if k >= 2:
        dash_icon(18.5, y, c)
fig.text(18 / W, 1 - 181.3 / H, "\u2590\u258c", fontsize=5.5, color="#111", va="center")
fig.text(18 / W, 1 - 192.3 / H, "\u25b2", fontsize=5.5, color="#aaaaaa", va="center")

dash_icon(19, 610.7, "#111")
seq(31, 610.7, [("MACD(12,26,9) -0.755", r), (", -0.392", {"color": "#ee1a1a"}),
                (", -0.363", {"color": "#4a9bd0"})], size=7)
for k, hh in enumerate((5, 8, 6)):
    fig.add_artist(Rectangle(((19 + 3 * k) / W, 1 - 759 / H), 2.2 / W, hh / H,
                             fc="#3d6070", ec="none", transform=fig.transFigure))
seq(31, 755.3, [("MACD(12,26,9) Hist -0.363", r)], size=7)
dash_icon(19, 900.3, "#111")
seq(31, 900.3, [("Full STO %K(14,3) %D(3) 6.84,", r), ("3.52", {"color": "#ee1a1a"})], gap=3, size=7)
dash_icon(19, 1045.3, "#111")
seq(31, 1045.3, [("ADX(14) 34.98", r), ("+DI 21.26", {"color": "#3d6470"}),
                 ("-DI 12.80", {"color": "#c8193c"})], gap=3.5, size=7)

# ---- annotation boxes ----
fig.add_artist(Rectangle((451 / W, 1 - 211 / H), 160 / W, 30 / H, fc="#a8a8b0", ec="none",
                         transform=fig.transFigure, zorder=8))
fig.add_artist(Rectangle((448 / W, 1 - 208 / H), 160 / W, 30 / H, fc="white", ec="#8c8c94",
                         lw=1, transform=fig.transFigure, zorder=9))
fig.text(452 / W, 1 - 193.5 / H, "VIX, weekly, 2yr", fontsize=14, fontweight="bold",
         family=["Liberation Sans", "DejaVu Sans"], va="center", color="#111", zorder=10)

fig.add_artist(Rectangle((671 / W, 1 - 236 / H), 232 / W, 92 / H, fc="#a8a8b0", ec="none",
                         transform=fig.transFigure, zorder=8))
fig.add_artist(Rectangle((668 / W, 1 - 233 / H), 232 / W, 92 / H, fc="white", ec="#8c8c94",
                         lw=1, transform=fig.transFigure, zorder=9))
for k, s in enumerate(info_lines):
    fig.text(672 / W, 1 - (151 + 18 * k) / H, s, fontsize=10, fontweight="bold",
             family=["Liberation Sans", "DejaVu Sans"], va="center", color="#111", zorder=10)

fig.savefig("out.png", dpi=100, facecolor="white")
